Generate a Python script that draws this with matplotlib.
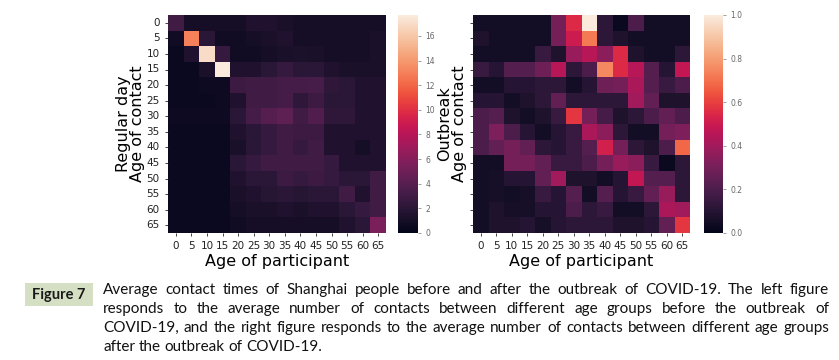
import numpy as np
import matplotlib
matplotlib.use("Agg")
import matplotlib.pyplot as plt
from matplotlib.patches import Rectangle
import seaborn as sns

ages = ["0", "5", "10", "15", "20", "25", "30", "35", "40", "45", "50", "55", "60", "65"]

# rows = age of contact, columns = age of participant
regular_day = [
    [3.0, 1.0, 1.0, 1.0, 1.0, 1.5, 1.5, 1.2, 1.0, 1.0, 1.0, 1.0, 1.0, 1.0],
    [0.8, 13.0, 2.0, 0.8, 0.8, 1.0, 1.2, 1.5, 1.0, 1.0, 1.0, 1.0, 1.0, 1.2],
    [0.5, 1.5, 17.0, 2.5, 0.8, 0.8, 1.0, 1.2, 1.3, 1.2, 1.0, 1.0, 1.0, 1.2],
    [0.5, 0.5, 1.2, 17.7, 1.5, 1.5, 2.0, 2.5, 2.0, 2.0, 1.5, 1.2, 1.2, 1.2],
    [0.5, 0.5, 0.6, 0.6, 2.8, 3.0, 3.0, 3.2, 3.2, 3.3, 2.2, 2.0, 1.5, 1.5],
    [0.5, 0.5, 0.5, 0.6, 1.5, 3.0, 3.0, 3.2, 2.2, 2.8, 2.0, 2.0, 1.5, 1.5],
    [0.6, 0.6, 0.6, 0.6, 2.0, 3.2, 4.0, 4.3, 3.0, 3.7, 2.2, 2.2, 1.5, 1.5],
    [0.5, 0.5, 0.5, 0.5, 1.5, 2.0, 2.5, 3.0, 2.8, 2.8, 1.5, 1.5, 1.5, 1.5],
    [0.5, 0.5, 0.5, 0.5, 1.2, 2.0, 2.5, 3.0, 2.5, 3.0, 1.5, 1.5, 1.0, 1.5],
    [0.5, 0.5, 0.5, 0.5, 2.0, 2.5, 3.0, 3.0, 3.0, 3.0, 2.5, 1.5, 1.5, 1.5],
    [0.5, 0.5, 0.5, 0.5, 1.5, 2.0, 2.0, 2.8, 2.5, 2.8, 2.5, 2.0, 2.0, 3.0],
    [0.5, 0.5, 0.5, 0.5, 1.2, 1.5, 1.8, 2.0, 1.8, 2.0, 2.0, 3.0, 1.5, 3.0],
    [0.5, 0.5, 0.5, 0.5, 1.0, 1.2, 1.2, 1.5, 1.2, 1.5, 1.5, 2.0, 2.5, 3.0],
    [0.5, 0.5, 0.5, 0.5, 0.8, 1.0, 1.0, 1.0, 1.0, 1.0, 1.0, 1.5, 2.0, 5.5],
]

outbreak = [
    [0.05, 0.05, 0.05, 0.05, 0.05, 0.30, 0.55, 1.00, 0.12, 0.03, 0.20, 0.05, 0.05, 0.05],
    [0.08, 0.05, 0.05, 0.05, 0.05, 0.30, 0.50, 0.72, 0.12, 0.08, 0.05, 0.05, 0.05, 0.05],
    [0.05, 0.05, 0.05, 0.05, 0.15, 0.08, 0.38, 0.45, 0.35, 0.55, 0.08, 0.05, 0.05, 0.12],
    [0.15, 0.10, 0.22, 0.22, 0.28, 0.45, 0.12, 0.20, 0.75, 0.55, 0.45, 0.22, 0.10, 0.48],
    [0.05, 0.05, 0.10, 0.10, 0.12, 0.12, 0.05, 0.10, 0.28, 0.30, 0.42, 0.22, 0.15, 0.20],
    [0.10, 0.10, 0.05, 0.08, 0.12, 0.25, 0.12, 0.12, 0.12, 0.12, 0.40, 0.25, 0.08, 0.08],
    [0.20, 0.22, 0.08, 0.05, 0.08, 0.15, 0.58, 0.30, 0.18, 0.08, 0.12, 0.20, 0.25, 0.20],
    [0.20, 0.32, 0.20, 0.10, 0.05, 0.10, 0.15, 0.42, 0.35, 0.12, 0.05, 0.05, 0.30, 0.32],
    [0.20, 0.25, 0.30, 0.25, 0.12, 0.10, 0.15, 0.22, 0.52, 0.30, 0.12, 0.08, 0.20, 0.68],
    [0.05, 0.05, 0.30, 0.30, 0.25, 0.15, 0.15, 0.20, 0.30, 0.38, 0.35, 0.15, 0.03, 0.12],
    [0.05, 0.06, 0.10, 0.10, 0.25, 0.40, 0.08, 0.08, 0.05, 0.10, 0.48, 0.22, 0.22, 0.12],
    [0.05, 0.06, 0.05, 0.06, 0.15, 0.10, 0.22, 0.05, 0.22, 0.10, 0.15, 0.25, 0.38, 0.12],
    [0.05, 0.08, 0.06, 0.06, 0.10, 0.10, 0.20, 0.12, 0.15, 0.05, 0.05, 0.12, 0.42, 0.40],
    [0.05, 0.08, 0.08, 0.10, 0.06, 0.10, 0.12, 0.12, 0.12, 0.08, 0.08, 0.10, 0.25, 0.58],
]

caption_lines = [
    "Average contact times of Shanghai people before and after the outbreak of COVID-19. The left figure",
    "responds to the average number of contacts between different age groups before the outbreak of",
    "COVID-19, and the right figure responds to the average number of contacts between different age groups",
    "after the outbreak of COVID-19.",
]

W, H = 839, 360
fig = plt.figure(figsize=(W / 100, H / 100), dpi=100)

def px_box(x0, y0, x1, y1):
    # pixel box (top-left origin) -> figure fraction rect
    return [x0 / W, 1 - y1 / H, (x1 - x0) / W, (y1 - y0) / H]

ax1 = fig.add_axes(px_box(168, 15, 386, 233))
cax1 = fig.add_axes(px_box(398, 15, 418, 233))
ax2 = fig.add_axes(px_box(473, 15, 690, 233))
cax2 = fig.add_axes(px_box(704, 15, 723, 233))

sns.heatmap(np.array(regular_day), ax=ax1, cbar_ax=cax1, cmap="rocket",
            vmin=0, xticklabels=ages, yticklabels=ages)
sns.heatmap(np.array(outbreak), ax=ax2, cbar_ax=cax2, cmap="rocket",
            vmin=0, vmax=1.0, xticklabels=ages, yticklabels=False)

ax2.set_yticks(np.arange(14) + 0.5)
ax2.set_yticklabels([])

for ax, lab in [(ax1, "Regular day\nAge of contact"), (ax2, "Outbreak\nAge of contact")]:
    ax.tick_params(axis="both", labelsize=7.5, length=2.5, width=0.6, colors="#222222")
    ax.set_xticklabels(ages, rotation=0)
    ax.set_xlabel("Age of participant", fontsize=11.5, labelpad=2)
    ax.set_ylabel(lab, fontsize=11.5, linespacing=0.95)
for t in ax1.get_yticklabels():
    t.set_rotation(0)
ax1.yaxis.set_label_coords((145 - 168) / 218, 0.5)
ax2.yaxis.set_label_coords((467 - 473) / 217, 0.5)

cax1.set_yticks([0, 2, 4, 6, 8, 10, 12, 14, 16])
cax2.set_yticks([0.0, 0.2, 0.4, 0.6, 0.8, 1.0])
for cax in (cax1, cax2):
    cax.tick_params(labelsize=5.5, length=2, width=0.5, colors="#777777", labelcolor="#666666")

# caption label box
fig.patches.append(Rectangle((25 / W, 1 - 306 / H), 68 / W, 23 / H,
                             transform=fig.transFigure, fc="#d5dfc3", ec="none"))
fig.text(59 / W, 1 - 294.5 / H, "Figure 7", fontsize=10.5, fontweight="bold",
         family="Lato", color="#1a1a1a", va="center", ha="center")

# justified caption text
renderer = fig.canvas.get_renderer()
cap_font = "Lato"

def width_px(s, size):
    t = fig.text(0, 0, s, fontsize=size, family=cap_font)
    w = t.get_window_extent(renderer).width
    t.remove()
    return w

left, right = 103, 829
size = 11.0
widest = max(width_px(l, size) for l in caption_lines)
if widest > right - left:
    size = size * (right - left) / widest

space = width_px("a a", size) - width_px("aa", size)
ys = [290, 309, 328, 347]
for i, (line, y) in enumerate(zip(caption_lines, ys)):
    words = line.split(" ")
    ws = [width_px(w, size) for w in words]
    if i < len(caption_lines) - 1:
        gap = (right - left - sum(ws)) / (len(words) - 1)
    else:
        gap = space
    x = left
    for w, wpx in zip(words, ws):
        fig.text(x / W, 1 - y / H, w, fontsize=size, family=cap_font,
                 color="#111111", va="center", ha="left")
        x += wpx + gap

fig.savefig("out.png", dpi=100)
